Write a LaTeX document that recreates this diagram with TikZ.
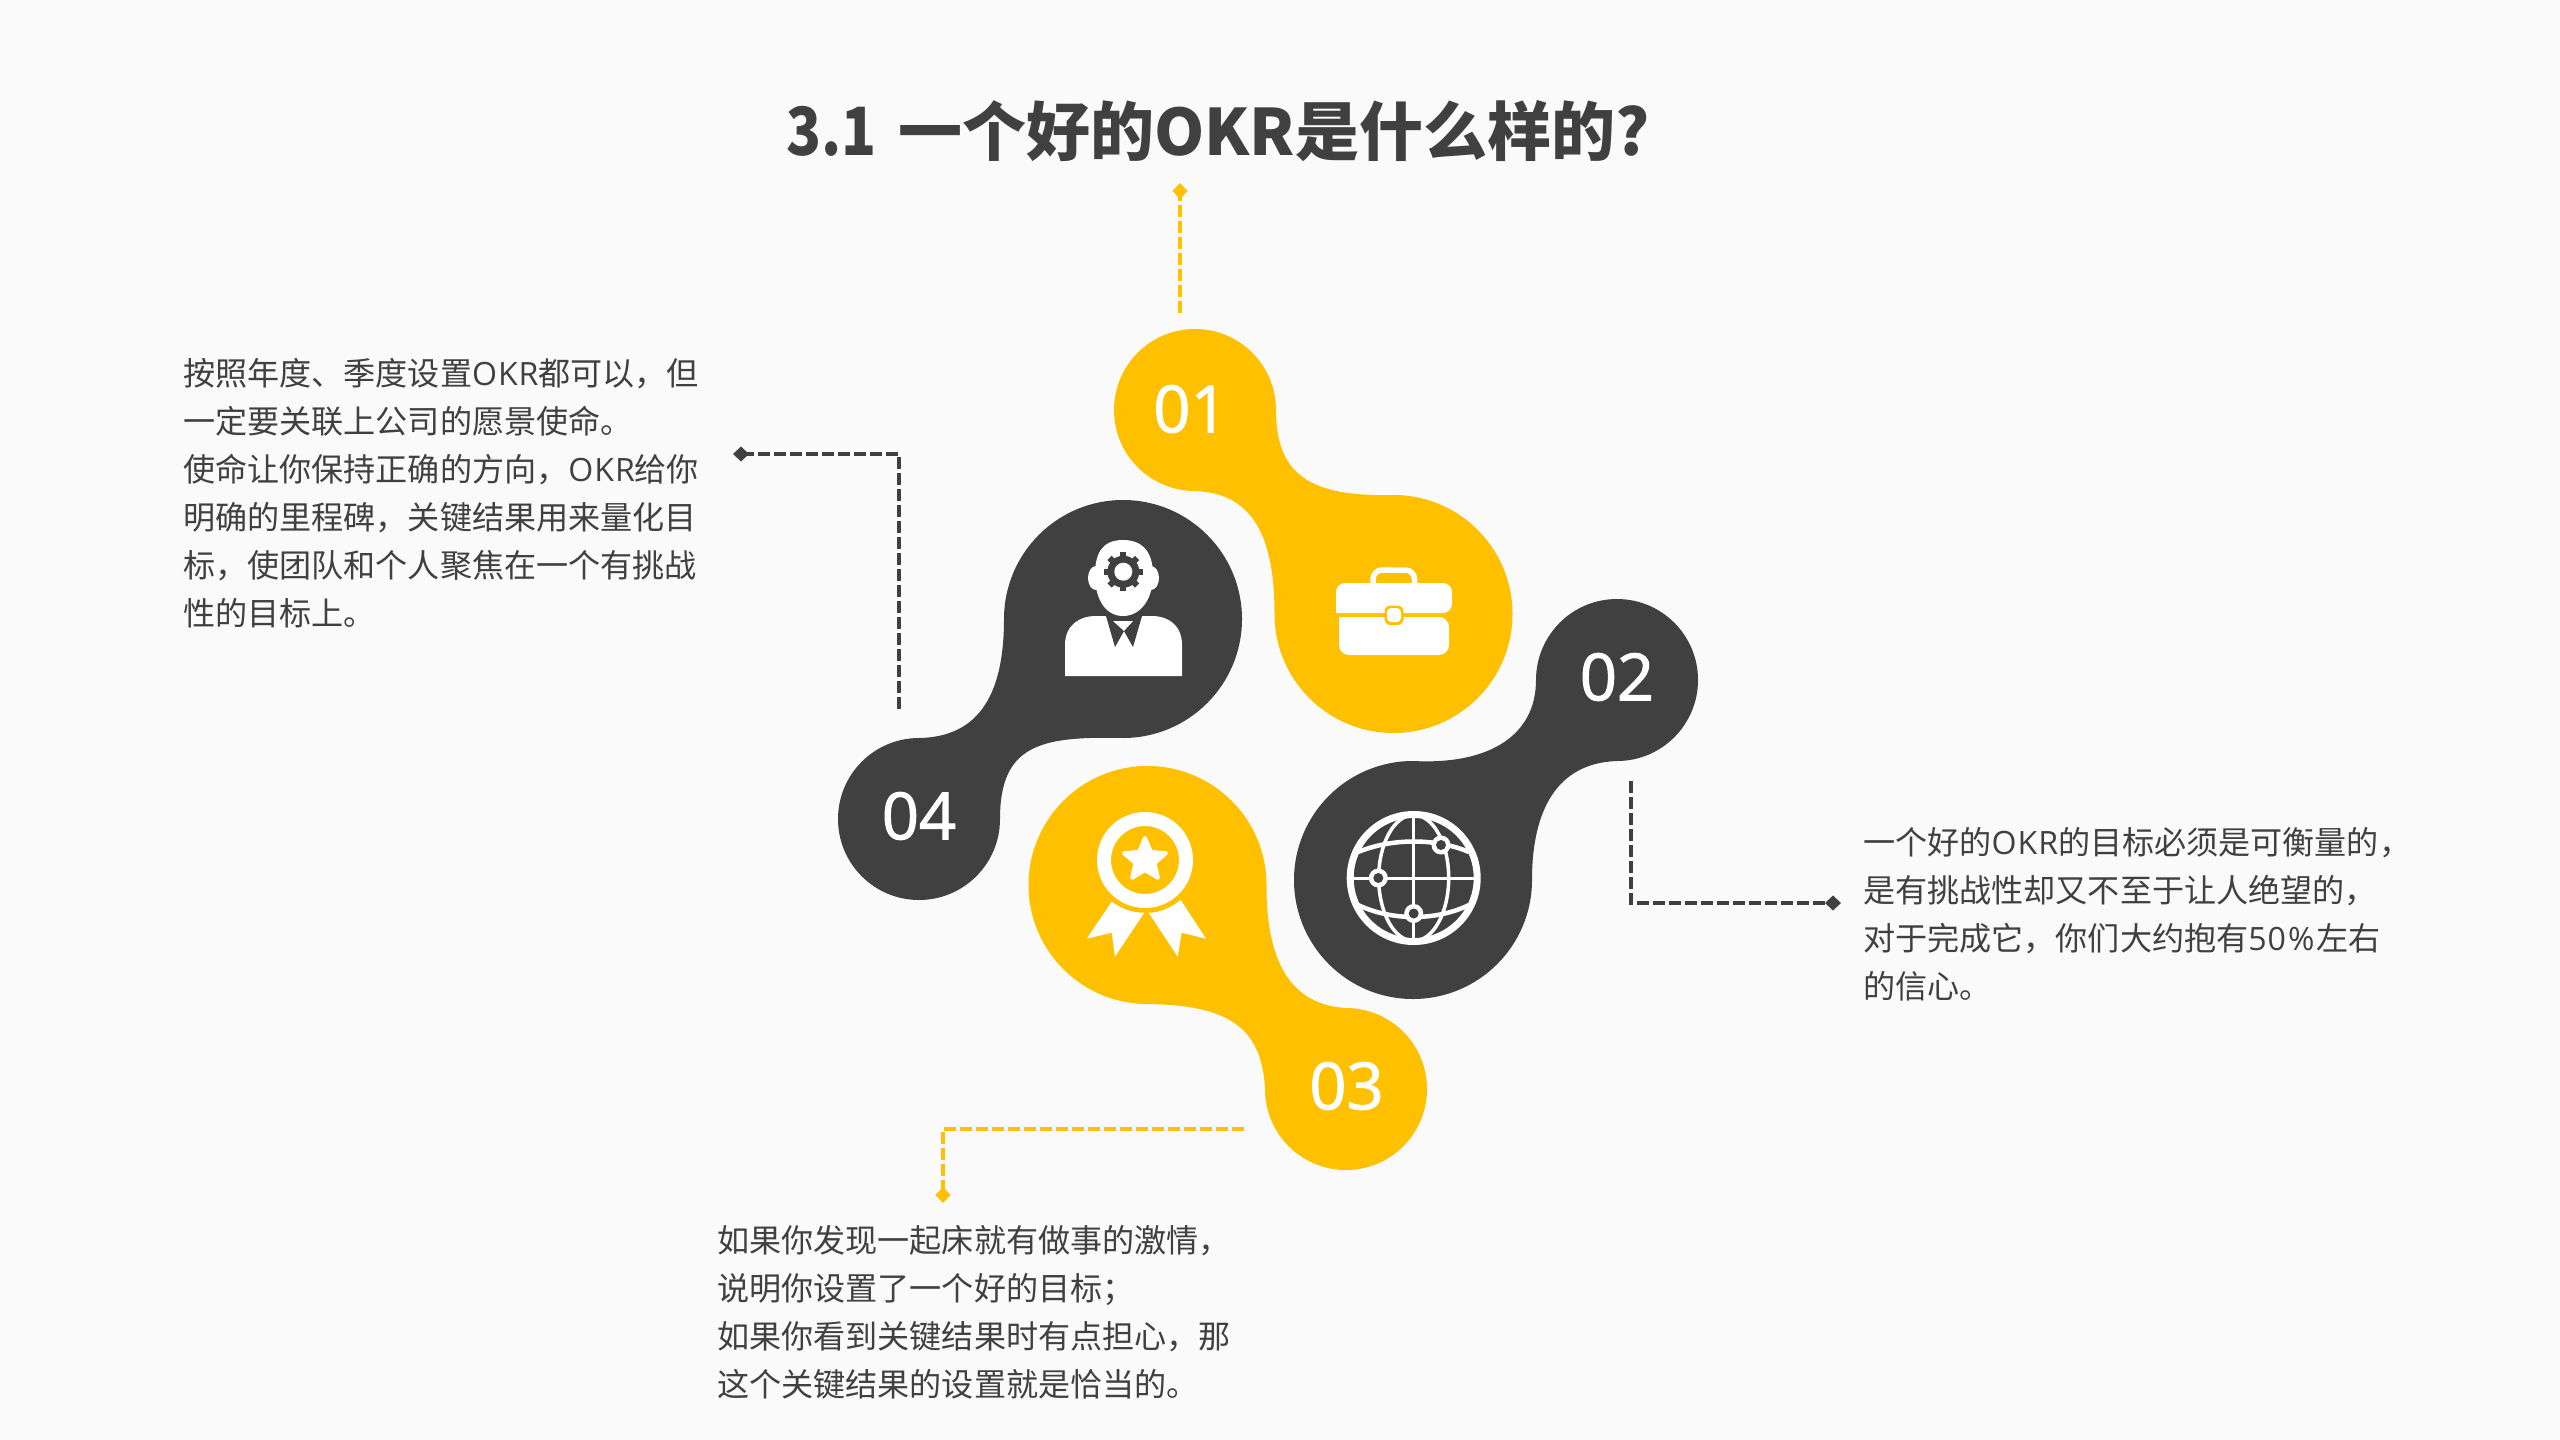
\documentclass[tikz,border=0pt]{standalone}
\usepackage{fontspec}
\usetikzlibrary{arrows.meta}
\setmainfont{Noto Sans CJK SC}
\newfontfamily\numfont[FakeBold=1.6]{Open Sans}
\newfontfamily\latfont[LetterSpace=3]{Open Sans}
\newcommand{\lat}[1]{{\latfont #1}}
\definecolor{bgc}{HTML}{FAFAFA}
\definecolor{ylw}{HTML}{FFC000}
\definecolor{drk}{HTML}{404040}
\tikzset{
  num/.style={text=white,font=\numfont\fontsize{65}{65}\selectfont,inner sep=0pt},
  body/.style={text=drk,font=\fontsize{32.1}{48.1}\selectfont,align=left,anchor=north west,inner sep=0pt},
  link/.style={line width=3.8pt,dash pattern=on 12pt off 4pt,-{Diamond[length=16pt,width=15pt]}},
}
\begin{document}
\begin{tikzpicture}[x=1pt,y=-1pt]
\useasboundingbox (0,0) rectangle (2560,1440);
\fill[bgc] (0,0) rectangle (2560,1440);
% blobs
\fill[ylw] (1276,410) .. controls (1276,475) and (1310,497) .. (1393.5,495)
  arc[start angle=-90,end angle=180,radius=119]
  .. controls (1274.5,540) and (1255,493) .. (1195,491)
  arc[start angle=90,end angle=360,radius=81] -- cycle;
\fill[drk] (1004,619) .. controls (1004,700) and (975,737) .. (919,738)
  arc[start angle=-90,end angle=-360,radius=81]
  .. controls (1000,745) and (1040,736) .. (1123,738)
  arc[start angle=90,end angle=-180,radius=119] -- cycle;
\fill[drk] (1413,761) .. controls (1490,765) and (1536,735) .. (1536,680)
  arc[start angle=180,end angle=450,radius=81]
  .. controls (1557,763) and (1532,810) .. (1532,880)
  arc[start angle=0,end angle=270,radius=119] -- cycle;
\fill[ylw] (1266.5,885) .. controls (1266,960) and (1290,1005) .. (1346,1008)
  arc[start angle=270,end angle=540,radius=81]
  .. controls (1262,1025) and (1225,1005) .. (1147.5,1004)
  arc[start angle=90,end angle=360,radius=119] -- cycle;
% numbers
\node[num] (n1) at (1190.5,409) {01};
\node[num] (n2) at (1617,677) {02};
\node[num] (n3) at (1346.5,1086) {03};
\node[num] (n4) at (919,816) {04};
% briefcase
\fill[white,rounded corners=9pt] (1336,613) -- (1336,583) -- (1452,583) -- (1452,613) [sharp corners] -- cycle;
\fill[white,rounded corners=10pt] (1339,617) -- (1339,655) -- (1449,655) -- (1449,617) [sharp corners] -- cycle;
\draw[white,line width=5.5pt,rounded corners=9pt] (1373,585) -- (1373,570) -- (1414.5,570) -- (1414.5,585);
\fill[ylw,rounded corners=6pt] (1384.5,605.5) rectangle (1403.5,625);
\fill[white,rounded corners=4pt] (1387,608) rectangle (1401,622);
% person
\fill[white] (1123,540) .. controls (1145,540) and (1153,555) .. (1153,575)
  .. controls (1153,600) and (1140,616) .. (1123,616)
  .. controls (1106,616) and (1095,600) .. (1095,575)
  .. controls (1095,555) and (1101,540) .. (1123,540) -- cycle;
\fill[white] (1096,578) ellipse[x radius=8,y radius=12];
\fill[white] (1151,578) ellipse[x radius=8,y radius=12];
\fill[white] (1065,676) -- (1065,645) .. controls (1065,625) and (1080,616) .. (1095,616)
  -- (1152,616) .. controls (1168,616) and (1182,625) .. (1182,645) -- (1182,676) -- cycle;
\fill[drk] (1106,616) -- (1115,647) -- (1124,631) -- (1133,647) -- (1142,616) -- cycle;
\fill[white] (1113,621) -- (1133,621) -- (1124,631) -- cycle;
\fill[drk] (1123.3,571.7) circle[radius=16];
\foreach \a in {0,45,...,315}
  \draw[drk,line width=6pt] (1123.3,571.7) ++(\a:12) -- ++(\a:7.5);
\fill[white] (1123.3,571.7) circle[radius=9];
% award
\fill[white,even odd rule] (1145,860) circle[radius=48] (1145,860) circle[radius=34];
\begin{scope}[shift={(1145,860)}]
\fill[white,draw=white,line width=4pt,line join=round] (-90:22) -- (-54:10) -- (-18:22) -- (18:10) -- (54:22) -- (90:10) -- (126:22) -- (162:10) -- (198:22) -- (234:10) -- cycle;
\end{scope}
\fill[white] (1111.7,901.7) .. controls (1120,908) and (1132,913) .. (1144.3,912.7)
  -- (1115,956.7) -- (1111.7,932.7) -- (1086.7,938.7) -- cycle;
\fill[white] (1180.7,900) .. controls (1172,907) and (1160,913) .. (1148.7,912.7)
  -- (1177.7,956.7) -- (1181.7,932.7) -- (1206,938.7) -- cycle;
% globe
\draw[white,line width=7pt] (1413.7,878) circle[radius=63.5];
\draw[white,line width=3.5pt] (1413.7,878) ellipse[x radius=35,y radius=63];
\draw[white,line width=3.5pt] (1413.7,815) -- (1413.7,941);
\draw[white,line width=3pt] (1351,878) -- (1476,878);
\draw[white,line width=4.5pt] (1358,852) .. controls (1392,838) and (1436,838) .. (1469,852);
\draw[white,line width=4.5pt] (1358,905) .. controls (1392,921) and (1436,921) .. (1469,905);
\foreach \p in {(1441,845),(1378.3,878),(1413.7,913.5)} {
  \fill[white] \p circle[radius=9.5];
  \fill[drk] \p circle[radius=5];
}
% connectors
\coordinate (c1a) at (1180,313); \coordinate (c1b) at (1180,183);
\draw[link,draw=ylw] (c1a) -- (c1b);
\coordinate (c4a) at (899,709); \coordinate (c4b) at (899,454); \coordinate (c4c) at (733,454);
\draw[link,draw=drk] (c4a) -- (c4b) -- (c4c);
\coordinate (c2a) at (1631,781); \coordinate (c2b) at (1631,903); \coordinate (c2c) at (1841,903);
\draw[link,draw=drk] (c2a) -- (c2b) -- (c2c);
\coordinate (c3a) at (1244,1129); \coordinate (c3b) at (943,1129); \coordinate (c3c) at (943,1203);
\draw[link,draw=ylw] (c3a) -- (c3b) -- (c3c);
% texts
\node[text=drk,font=\bfseries\fontsize{64}{64}\selectfont,inner sep=0pt,anchor=west] (title) at (786,131) {\scalebox{0.9}[1.04]{3.1}\hspace{21.5pt}一个好的OKR是什么样的?};
\node[body] (t4) at (183,358) {按照年度、季度设置\lat{OKR}都可以，但\\一定要关联上公司的愿景使命。\\使命让你保持正确的方向，\lat{OKR}给你\\明确的里程碑，关键结果用来量化目\\标，使团队和个人聚焦在一个有挑战\\性的目标上。};
\node[body] (t2) at (1863,827) {一个好的\lat{OKR}的目标必须是可衡量的，\\是有挑战性却又不至于让人绝望的，\\对于完成它，你们大约抱有\lat{50\kern2pt\%\kern2pt}左右\\的信心。};
\node[body] (t3) at (717,1225) {如果你发现一起床就有做事的激情，\\说明你设置了一个好的目标；\\如果你看到关键结果时有点担心，那\\这个关键结果的设置就是恰当的。};
\end{tikzpicture}
\end{document}
